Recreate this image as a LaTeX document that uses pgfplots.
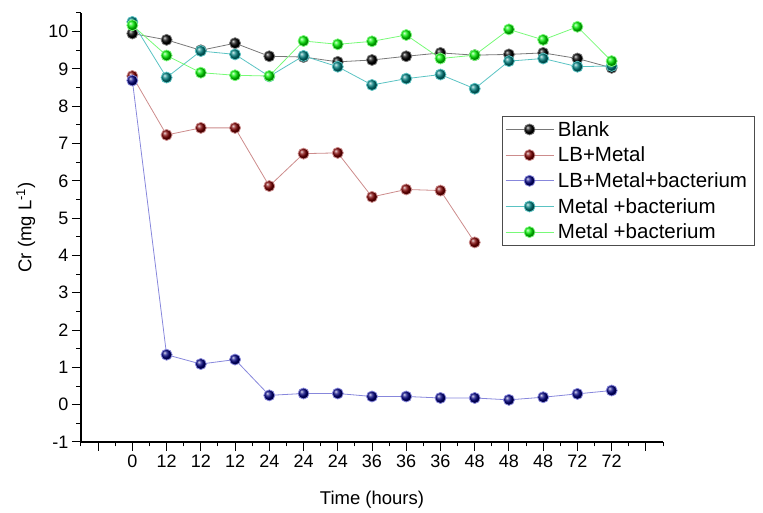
\documentclass[border=0pt]{standalone}
\usepackage{pgfplots}
\pgfplotsset{compat=1.18}
\usepackage{fontspec}
\setmainfont{Liberation Sans}
\definecolor{cBlk}{RGB}{0,0,0}
\definecolor{lBlk}{RGB}{120,120,120}
\definecolor{cRed}{RGB}{128,0,0}
\definecolor{lRed}{RGB}{205,140,140}
\definecolor{cBlu}{RGB}{0,0,128}
\definecolor{lBlu}{RGB}{135,135,220}
\definecolor{cTea}{RGB}{0,128,128}
\definecolor{lTea}{RGB}{90,195,195}
\definecolor{cGrn}{RGB}{0,240,0}
\definecolor{lGrn}{RGB}{120,250,120}
\begin{document}
\begin{tikzpicture}
\useasboundingbox (-81pt,-71pt) rectangle (682pt,442pt);
\begin{axis}[
  at={(0,0)}, anchor=south west,
  scale only axis, width=582pt, height=429pt,
  xmin=-1.5, xmax=15.5, ymin=-1, ymax=10.5,
  axis x line*=bottom, axis y line*=left,
  axis line style={-, line width=1.1pt},
  tick style={line width=1pt, black},
  tick align=outside,
  major tick length=9pt, minor tick length=4.5pt,
  xtick={-1,0,...,15},
  xticklabels={,0,12,12,12,24,24,24,36,36,36,48,48,48,72,72,},
  minor xtick={-1.5,-0.5,...,15.5},
  ytick={-1,0,...,10},
  minor ytick={-0.5,0.5,...,10.5},
  /pgf/number format/assume math mode=true,
  ticklabel style={font=\fontsize{18}{21}\selectfont},
  xlabel={Time (hours)},
  ylabel={Cr (mg L\textsuperscript{-1})},
  xlabel style={at={(axis description cs:0.5,-0.135)}, anchor=center, font=\fontsize{18.5}{22}\selectfont},
  ylabel style={at={(axis description cs:-0.095,0.5)}, anchor=center, font=\fontsize{18.5}{22}\selectfont},
  legend style={at={(axis description cs:0.723,0.76)}, anchor=north west,
    draw=black!70, line width=0.7pt, fill=white, font=\fontsize{20.5}{24}\selectfont,
    row sep=5.3pt, inner xsep=3pt, inner ysep=3pt, nodes={inner xsep=4pt}},
  legend cell align=left,
  legend image code/.code={\draw[mark repeat=2,mark phase=2,line width=0.8pt] plot coordinates {(0pt,0pt) (24pt,0pt) (48pt,0pt)};},
  every axis plot/.append style={line width=0.8pt, mark=ball, mark size=5.5pt},
]
\addplot[draw=lBlk, mark options={ball color=cBlk}] coordinates {
(0,9.95)(1,9.78)(2,9.50)(3,9.69)(4,9.34)(5,9.32)(6,9.19)(7,9.24)(8,9.34)(9,9.43)(10,9.37)(11,9.39)(12,9.43)(13,9.28)(14,9.03)};
\addlegendentry{Blank}
\addplot[draw=lRed, mark options={ball color=cRed}] coordinates {
(0,8.81)(1,7.23)(2,7.42)(3,7.42)(4,5.86)(5,6.73)(6,6.75)(7,5.57)(8,5.77)(9,5.74)(10,4.35)};
\addlegendentry{LB+Metal}
\addplot[draw=lBlu, mark options={ball color=cBlu}] coordinates {
(0,8.69)(1,1.34)(2,1.09)(3,1.21)(4,0.25)(5,0.30)(6,0.30)(7,0.22)(8,0.22)(9,0.18)(10,0.18)(11,0.13)(12,0.20)(13,0.29)(14,0.38)};
\addlegendentry{LB+Metal+bacterium}
\addplot[draw=lTea, mark options={ball color=cTea}] coordinates {
(0,10.26)(1,8.77)(2,9.48)(3,9.39)(4,8.80)(5,9.35)(6,9.06)(7,8.57)(8,8.74)(9,8.85)(10,8.47)(11,9.21)(12,9.28)(13,9.06)(14,9.08)};
\addlegendentry{Metal +bacterium}
\addplot[draw=lGrn, mark options={ball color=cGrn}] coordinates {
(0,10.17)(1,9.36)(2,8.90)(3,8.83)(4,8.81)(5,9.75)(6,9.66)(7,9.74)(8,9.91)(9,9.28)(10,9.37)(11,10.06)(12,9.78)(13,10.13)(14,9.21)};
\addlegendentry{Metal +bacterium}
\end{axis}
\end{tikzpicture}
\end{document}
